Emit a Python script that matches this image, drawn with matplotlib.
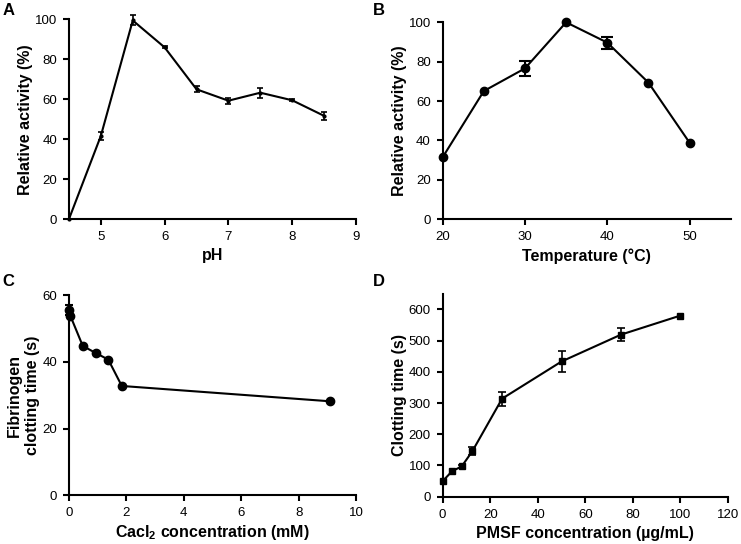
import matplotlib
matplotlib.use('Agg')
import matplotlib.pyplot as plt

plt.rcParams['font.family'] = ['Liberation Sans', 'DejaVu Sans']
plt.rcParams['mathtext.fontset'] = 'custom'
plt.rcParams['mathtext.rm'] = 'Liberation Sans'
plt.rcParams['mathtext.bf'] = 'Liberation Sans:bold'

# A - pH
ph = [4.5, 5, 5.5, 6, 6.5, 7, 7.5, 8, 8.5]
ph_act = [0, 41.7, 99.5, 86, 65, 59.3, 63.3, 59.5, 51.7]
ph_err = [0, 2, 2.5, 0.5, 1.5, 1.5, 2.5, 0.5, 2]

# B - temperature
temp = [20, 25, 30, 35, 40, 45, 50]
temp_act = [31.5, 65.1, 76.6, 100, 89.7, 69.4, 38.9]
temp_err = [0, 0, 4, 0, 3, 0, 0]

# C - CaCl2
cacl = [0, 0.05, 0.48, 0.93, 1.37, 1.84, 9.1]
fib_time = [55.6, 53.8, 44.8, 42.7, 40.7, 32.8, 28.2]
fib_err = [1.5, 0, 0, 0, 0, 0, 0]

# D - PMSF
pmsf = [0, 4, 8, 12.5, 25, 50, 75, 100]
clot_time = [50, 82, 97, 146, 314, 433, 519, 580]
clot_err = [0, 0, 6, 14, 22, 33, 20, 0]

fig = plt.figure(figsize=(7.41, 5.44), dpi=100)

axA = fig.add_axes([0.0931, 0.5974, 0.3873, 0.3668])
axB = fig.add_axes([0.5974, 0.5969, 0.3887, 0.3621])
axC = fig.add_axes([0.0931, 0.0895, 0.3873, 0.3677])
axD = fig.add_axes([0.5974, 0.0869, 0.3851, 0.3732])


def style(ax):
    for s in ['top', 'right']:
        ax.spines[s].set_visible(False)
    for s in ['left', 'bottom']:
        ax.spines[s].set_linewidth(1.5)
    ax.tick_params(width=1.5, length=4, labelsize=9.5, direction='out', pad=4.5)


def draw(ax, x, y, err, marker, ms, cap, ew):
    ax.plot(x, y, color='black', lw=1.5, marker=marker, ms=ms, clip_on=False)
    xe = [a for a, e in zip(x, err) if e > 0]
    ye = [b for b, e in zip(y, err) if e > 0]
    ee = [e for e in err if e > 0]
    ax.errorbar(xe, ye, yerr=ee, fmt='none', ecolor='black', elinewidth=ew,
                capsize=cap, capthick=ew, clip_on=False)


xlab = dict(fontsize=11.5, fontweight='bold', labelpad=4)
ylab = dict(fontsize=11.5, fontweight='bold', labelpad=1.5)

draw(axA, ph, ph_act, ph_err, 'o', 2, 2.5, 1.2)
axA.set_xlim(4.5, 9)
axA.set_ylim(0, 100)
axA.set_xticks([5, 6, 7, 8, 9])
axA.set_yticks([0, 20, 40, 60, 80, 100])
axA.set_xlabel('pH', **xlab)
axA.set_ylabel('Relative activity (%)', **ylab)
style(axA)

draw(axB, temp, temp_act, temp_err, 'o', 6, 4, 1.5)
axB.set_xlim(20, 55)
axB.set_ylim(0, 100)
axB.set_xticks([20, 30, 40, 50])
axB.set_yticks([0, 20, 40, 60, 80, 100])
axB.set_xlabel('Temperature (°C)', **xlab)
axB.set_ylabel('Relative activity (%)', **ylab)
style(axB)

draw(axC, cacl, fib_time, fib_err, 'o', 6, 3, 1.5)
axC.set_xlim(0, 10)
axC.set_ylim(0, 60)
axC.set_xticks([0, 2, 4, 6, 8, 10])
axC.set_yticks([0, 20, 40, 60])
axC.set_xlabel('Cacl$_{\\mathbf{2}}$ concentration (mM)', fontsize=11.5, fontweight='bold', labelpad=3)
axC.set_ylabel('Fibrinogen\nclotting time (s)', linespacing=1.3, **ylab)
style(axC)

draw(axD, pmsf, clot_time, clot_err, 's', 4, 3, 1.2)
axD.set_xlim(0, 120)
axD.set_ylim(0, 650)
axD.set_xticks([0, 20, 40, 60, 80, 100, 120])
axD.set_yticks([0, 100, 200, 300, 400, 500, 600])
axD.set_xlabel('PMSF concentration (µg/mL)', **xlab)
axD.set_ylabel('Clotting time (s)', **ylab)
style(axD)

fig.text(0.003, 0.995, 'A', fontsize=12, fontweight='bold', va='top', ha='left')
fig.text(0.503, 0.995, 'B', fontsize=12, fontweight='bold', va='top', ha='left')
fig.text(0.003, 0.497, 'C', fontsize=12, fontweight='bold', va='top', ha='left')
fig.text(0.503, 0.497, 'D', fontsize=12, fontweight='bold', va='top', ha='left')

fig.savefig('out.png', dpi=100)
